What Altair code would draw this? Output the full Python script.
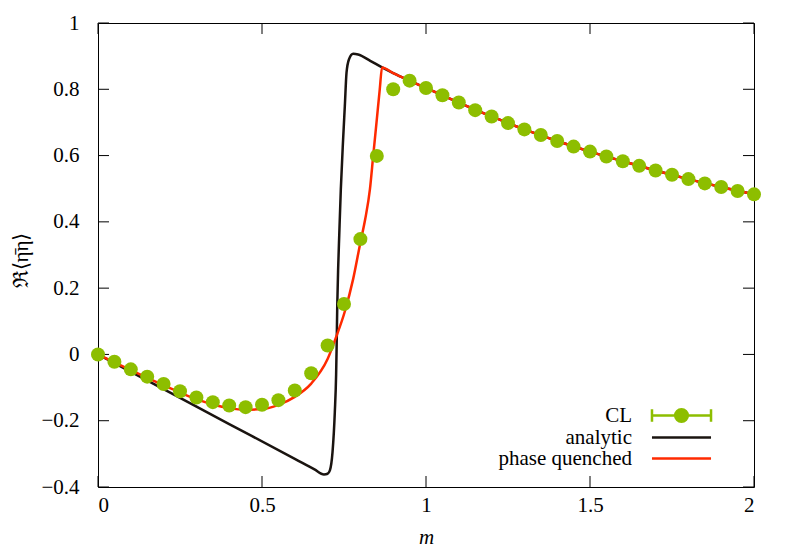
import altair as alt
import pandas as pd

# ---------------- data ----------------
cl_m = [0.0, 0.05, 0.1, 0.15, 0.2, 0.25, 0.3, 0.35, 0.4, 0.45, 0.5, 0.55, 0.6, 0.65,
        0.7, 0.75, 0.8, 0.85, 0.9, 0.95, 1.0, 1.05, 1.1, 1.15, 1.2, 1.25, 1.3, 1.35,
        1.4, 1.45, 1.5, 1.55, 1.6, 1.65, 1.7, 1.75, 1.8, 1.85, 1.9, 1.95, 2.0]
cl_y = [0.0, -0.022, -0.045, -0.067, -0.089, -0.111, -0.130, -0.144, -0.154, -0.159,
        -0.152, -0.138, -0.109, -0.057, 0.027, 0.152, 0.348, 0.599, 0.800, 0.826,
        0.804, 0.782, 0.760, 0.737, 0.718, 0.698, 0.679, 0.662, 0.644, 0.627, 0.612,
        0.597, 0.583, 0.569, 0.555, 0.542, 0.529, 0.516, 0.505, 0.493, 0.483]

# shared high-m branch (analytic and phase quenched coincide)
tail_m = [0.9, 0.95, 1.0, 1.1, 1.2, 1.3, 1.4, 1.5, 1.6, 1.7, 1.8, 1.9, 2.0]
tail_y = [0.849, 0.826, 0.804, 0.760, 0.718, 0.679, 0.644, 0.612, 0.583, 0.555, 0.529, 0.505, 0.483]

an_m = [0.0, 0.2, 0.4, 0.6, 0.66, 0.689, 0.700, 0.707, 0.715, 0.722, 0.726, 0.7275,
        0.7295, 0.7325, 0.7355, 0.7403, 0.7473, 0.7525, 0.7577, 0.765, 0.778, 0.793,
        0.83, 0.866]
an_y = [0.0, -0.105, -0.21, -0.315, -0.347, -0.362, -0.360, -0.350, -0.295, -0.174,
        -0.06, 0.02, 0.15, 0.27, 0.36, 0.498, 0.649, 0.749, 0.85, 0.89, 0.907, 0.905,
        0.886, 0.866]

pq_m = [0.0, 0.1, 0.2, 0.25, 0.3, 0.35, 0.4, 0.45, 0.5, 0.55, 0.6, 0.65, 0.7, 0.727,
        0.752, 0.778, 0.8, 0.815, 0.829, 0.839, 0.849, 0.859, 0.866]
pq_y = [0.0, -0.047, -0.093, -0.115, -0.135, -0.151, -0.162, -0.167, -0.165, -0.152,
        -0.128, -0.088, -0.014, 0.055, 0.128, 0.228, 0.338, 0.41, 0.498, 0.599, 0.699,
        0.800, 0.866]

series = ["CL", "analytic", "phase quenched"]
colors = ["#8dbe00", "#1a1410", "#ff2a00"]

x_ticks = [0.0, 0.5, 1.0, 1.5, 2.0]
y_ticks = [-0.4, -0.2, 0.0, 0.2, 0.4, 0.6, 0.8, 1.0]

# ---------------- frames ----------------
df_cl = pd.DataFrame({"m": cl_m, "y": cl_y})
df_an = pd.DataFrame({"m": an_m + tail_m, "y": an_y + tail_y})
df_pq = pd.DataFrame({"m": pq_m + tail_m, "y": pq_y + tail_y})
df_leg = pd.DataFrame({"series": series})
df_xt = pd.DataFrame({"t": x_ticks})
df_yt = pd.DataFrame({"t": y_ticks})

W, H = 656, 464
FONT = "Liberation Serif"
FS = 21
TICK = 11

xscale = alt.Scale(domain=[0, 2], nice=False, zero=False)
yscale = alt.Scale(domain=[-0.4, 1.0], nice=False, zero=False)

axis_font = dict(labelFont=FONT, labelFontSize=FS, labelColor="black",
                 titleFont=FONT, titleFontSize=FS, titleColor="black", titleFontWeight="normal")

X = alt.X("m:Q", scale=xscale,
          axis=alt.Axis(values=x_ticks, format="~g", ticks=False, domain=False, grid=False,
                        labelPadding=7, title="m", titleFontStyle="italic",
                        titleX=W / 2, titleY=56, titleBaseline="alphabetic", **axis_font))
Y = alt.Y("y:Q", scale=yscale,
          axis=alt.Axis(values=y_ticks, format="~g", ticks=False, domain=False, grid=False,
                        labelPadding=19, title="ℜ⟨η̄η⟩", titleAngle=-90,
                        titleX=-77, titleY=237, titleBaseline="middle", titleAlign="center",
                        **axis_font))

analytic = alt.Chart(df_an).mark_line(color=colors[1], strokeWidth=2.5,
                                      interpolate="monotone").encode(x=X, y=Y)
pquench = alt.Chart(df_pq).mark_line(color=colors[2], strokeWidth=2.5,
                                     interpolate="monotone").encode(x=X, y=Y)
cl = alt.Chart(df_cl).mark_circle(color=colors[0], size=196, opacity=1).encode(x=X, y=Y)

# ---------------- legend (library legend, custom symbols) ----------------
# custom symbol paths are scaled by sqrt(symbolSize)/2 = 8 px per unit
cl_path = ("M-3.69,0H3.69M-3.69,-0.79V0.79M3.69,-0.79V0.79"
           "M-0.79,0A0.79,0.79,0,1,1,0.79,0A0.79,0.79,0,1,1,-0.79,0Z")
line_path = "M-3.69,0H3.69"
leg_kw = dict(title=None, orient="none", legendX=573, legendY=382,
              labelFont=FONT, labelFontSize=FS, labelColor="black",
              labelAlign="right", labelOffset={"expr": "-60"}, labelLimit=400,
              symbolSize=256, symbolStrokeWidth=2.5, symbolOpacity=1, padding=0)
try:
    leg = alt.Legend(rowPadding=-2.5, **leg_kw)
except Exception:
    leg = alt.Legend(rowPadding=0, **leg_kw)

legend_layer = alt.Chart(df_leg).mark_point(filled=True, strokeWidth=2.5, opacity=0).encode(
    x=alt.value(0), y=alt.value(0),
    shape=alt.Shape("series:N", scale=alt.Scale(domain=series,
                                                range=[cl_path, line_path, line_path]),
                    legend=leg),
    fill=alt.Fill("series:N", scale=alt.Scale(domain=series, range=colors), legend=leg),
    stroke=alt.Stroke("series:N", scale=alt.Scale(domain=series, range=colors), legend=leg),
)

# ---------------- inward mirrored ticks ----------------
tx = alt.X("t:Q", scale=xscale)
ty = alt.Y("t:Q", scale=yscale)
tick_style = dict(color="black", strokeWidth=1)
xt_bot = alt.Chart(df_xt).mark_rule(**tick_style).encode(x=tx, y=alt.value(H), y2=alt.value(H - TICK))
xt_top = alt.Chart(df_xt).mark_rule(**tick_style).encode(x=tx, y=alt.value(0), y2=alt.value(TICK))
yt_lft = alt.Chart(df_yt).mark_rule(**tick_style).encode(y=ty, x=alt.value(0), x2=alt.value(TICK))
yt_rgt = alt.Chart(df_yt).mark_rule(**tick_style).encode(y=ty, x=alt.value(W), x2=alt.value(W - TICK))

chart = alt.layer(
    xt_bot, xt_top, yt_lft, yt_rgt, analytic, pquench, cl, legend_layer
).resolve_scale(fill="shared", stroke="shared", shape="shared").properties(
    width=W, height=H,
    background="white",
    autosize=alt.AutoSizeParams(type="none"),
    padding={"left": 90, "top": 15, "right": 20, "bottom": 60},
).configure_view(
    stroke="black", strokeWidth=1
)

chart.save("out.html", embed_options={"renderer": "svg", "actions": False})
